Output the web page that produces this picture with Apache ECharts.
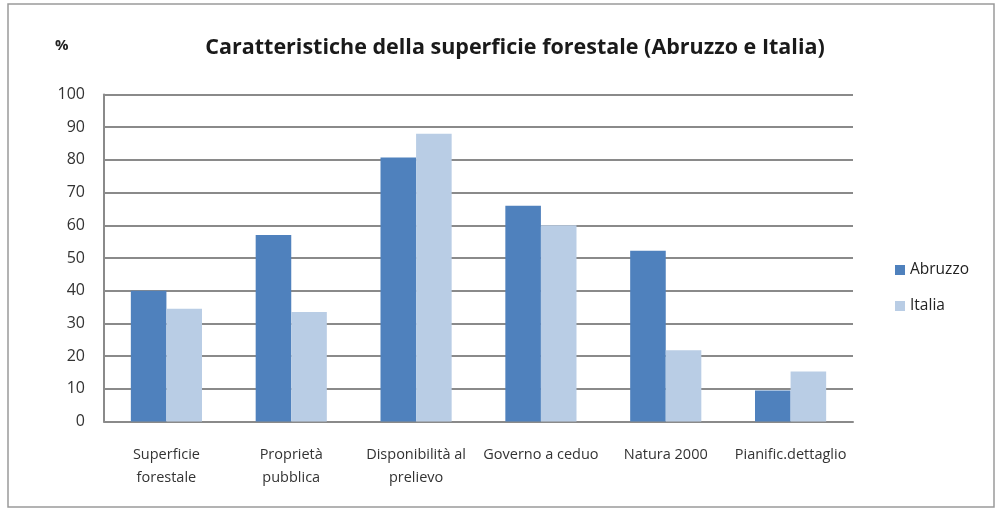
<!DOCTYPE html>
<html><head><meta charset="utf-8">
<script src="https://cdn.jsdelivr.net/npm/echarts@6/dist/echarts.min.js"></script>
<style>html,body{margin:0;padding:0;background:#fff}#c{width:998px;height:512px}</style>
</head><body><div id="c"></div>
<script>
const categories = ['Superficie\nforestale', 'Proprietà\npubblica', 'Disponibilità al\nprelievo', 'Governo a ceduo', 'Natura 2000', 'Pianific.dettaglio'];
const abruzzo = [40, 57, 80.7, 66, 52.2, 9.5];
const italia = [34.5, 33.5, 88, 60, 21.8, 15.3];
const yTicks = [0, 10, 20, 30, 40, 50, 60, 70, 80, 90, 100];

const chart = echarts.init(document.getElementById('c'), null, {renderer: 'canvas'});
const FONT = 'Open Sans';
chart.setOption({
  animation: false,
  backgroundColor: '#fff',
  title: {
    text: 'Caratteristiche della superficie forestale (Abruzzo e Italia)',
    left: 510, top: 32, textAlign: 'center',
    textStyle: {fontFamily: FONT, fontWeight: 'bold', fontSize: 21.5, color: '#1a1a1a'}
  },
  graphic: [
    {type: 'rect', shape: {x: 8, y: 4, width: 986, height: 503}, style: {fill: 'none', stroke: '#9a9a9a', lineWidth: 1.5}},
    {type: 'text', left: 55, top: 38, style: {text: '%', fontFamily: FONT, fontWeight: 'bold', fontSize: 15, fill: '#222'}}
  ],
  legend: {
    orient: 'vertical', left: 890, top: 257, itemGap: 20, itemWidth: 10, itemHeight: 10,
    icon: 'rect',
    textStyle: {fontFamily: FONT, fontSize: 15.5, color: '#222'},
    data: ['Abruzzo', 'Italia']
  },
  grid: {left: 104, right: 145, top: 94.5, bottom: 90.5, containLabel: false},
  xAxis: {
    type: 'category', data: categories,
    axisLine: {lineStyle: {color: '#8a8a8a', width: 2}},
    axisTick: {show: false},
    axisLabel: {interval: 0, margin: 22, fontFamily: FONT, fontSize: 14.5, color: '#333', lineHeight: 23}
  },
  yAxis: {
    type: 'value', min: yTicks[0], max: yTicks[yTicks.length - 1], interval: 10,
    axisLine: {show: true, lineStyle: {color: '#8a8a8a', width: 2}},
    axisTick: {show: false},
    axisLabel: {margin: 19, fontFamily: FONT, fontSize: 16, color: '#333'},
    splitLine: {lineStyle: {color: '#8a8a8a', width: 2}}
  },
  series: [
    {name: 'Abruzzo', type: 'bar', data: abruzzo, barGap: '0%', barCategoryGap: '43%', itemStyle: {color: '#4f81bd'}},
    {name: 'Italia', type: 'bar', data: italia, barGap: '0%', barCategoryGap: '43%', itemStyle: {color: '#b9cde5'}}
  ]
});
</script></body></html>
